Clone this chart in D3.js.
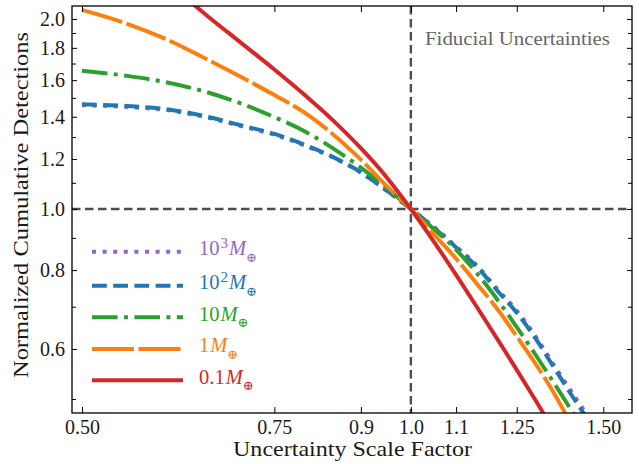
<!DOCTYPE html>
<html><head><meta charset="utf-8">
<script src="https://cdn.jsdelivr.net/npm/d3@7"></script>
<style>
html,body{margin:0;padding:0;background:#fff;}
svg{display:block;font-family:"Liberation Serif","DejaVu Serif",serif;}
</style></head>
<body><svg id="c" width="639" height="464"></svg>
<script>
// ---- data ----
const scaleFactor = [0.5,0.55,0.6,0.65,0.7,0.75,0.8,0.85,0.9,0.95,1.0,1.05,1.1,1.15,1.2,1.25,1.3,1.35,1.4,1.45,1.5];
const mass1000 = [1.460,1.451,1.433,1.397,1.352,1.311,1.260,1.205,1.142,1.069,1.0,0.936,0.872,0.813,0.746,0.690,0.629,0.568,0.516,0.471,0.427];
const mass100  = [1.465,1.456,1.438,1.401,1.356,1.315,1.263,1.207,1.143,1.070,1.0,0.934,0.869,0.809,0.742,0.685,0.624,0.563,0.510,0.465,0.420];
const mass10   = [1.656,1.625,1.585,1.532,1.468,1.398,1.327,1.245,1.163,1.080,1.0,0.929,0.862,0.790,0.718,0.650,0.588,0.532,0.482,0.438,0.398];
const mass1    = [2.067,1.965,1.851,1.728,1.617,1.515,1.420,1.310,1.197,1.088,1.0,0.911,0.834,0.760,0.694,0.628,0.569,0.513,0.458,0.410,0.367];
const mass01   = [3.020,2.606,2.281,2.028,1.830,1.663,1.514,1.378,1.248,1.123,1.0,0.887,0.786,0.698,0.622,0.556,0.498,0.447,0.403,0.364,0.329];
const xTickValues = [0.5,0.75,0.9,1.0,1.1,1.25,1.5];
const xTickLabels = ["0.50","0.75","0.9","1.0","1.1","1.25","1.50"];
const yMajorTicks = [0.6,0.8,1.0,1.2,1.4,1.6,1.8,2.0];
const yMinorTicks = [0.5,0.7,0.9,1.1,1.3,1.5,1.7,1.9];
const legendBase = ["10","10","10","1","0.1"];
const legendExp  = ["3","2",null,null,null];

// ---- layout ----
const L=72,R=632,T=6,B=413;
const svg=d3.select("#c");
const x=d3.scaleLog().domain([0.4896,1.5936]).range([L,R]);
const y=d3.scaleLog().domain([0.475,2.097]).range([B,T]);

svg.append("defs").append("clipPath").attr("id","clip")
  .append("rect").attr("x",L).attr("y",T).attr("width",R-L).attr("height",B-T);

const g=svg.append("g").attr("clip-path","url(#clip)");

// reference lines
g.append("line").attr("x1",L).attr("x2",R).attr("y1",y(1)).attr("y2",y(1))
  .attr("stroke","#4d4d4d").attr("stroke-width",2.4).attr("stroke-dasharray","8.5,4.5");
g.append("line").attr("x1",x(1)).attr("x2",x(1)).attr("y1",T).attr("y2",B)
  .attr("stroke","#4d4d4d").attr("stroke-width",2.4).attr("stroke-dasharray","8.5,4.5");

const styles=[
  {vals:mass1000,color:"#9467bd",dash:"4,6.6"},
  {vals:mass100,color:"#1f77b4",dash:"14.8,6.4"},
  {vals:mass10,color:"#2ca02c",dash:"25.6,6.4,4,6.4"},
  {vals:mass1,color:"#ff7f0e",dash:"42,4.5"},
  {vals:mass01,color:"#d62728",dash:null}
];
const line=d3.line().x(d=>x(d[0])).y(d=>y(d[1])).curve(d3.curveMonotoneX);
styles.forEach(s=>{
  g.append("path").datum(scaleFactor.map((v,i)=>[v,s.vals[i]]))
   .attr("d",line).attr("fill","none").attr("stroke",s.color).attr("stroke-width",4)
   .attr("stroke-dasharray",s.dash);
});

// axes
const fs=20;
const xb=svg.append("g").attr("transform",`translate(0,${B})`)
  .call(d3.axisBottom(x).tickValues(xTickValues).tickFormat((d,i)=>xTickLabels[i]).tickSizeInner(-6).tickSizeOuter(0).tickPadding(7));
const xt=svg.append("g").attr("transform",`translate(0,${T})`)
  .call(d3.axisTop(x).tickValues(xTickValues).tickFormat("").tickSizeInner(-6).tickSizeOuter(0));
const yl=svg.append("g").attr("transform",`translate(${L},0)`)
  .call(d3.axisLeft(y).tickValues(yMajorTicks).tickFormat(d3.format(".1f")).tickSizeInner(-5).tickSizeOuter(0).tickPadding(7));
const ylm=svg.append("g").attr("transform",`translate(${L},0)`)
  .call(d3.axisLeft(y).tickValues(yMinorTicks).tickFormat("").tickSizeInner(-4).tickSizeOuter(0));
const yr=svg.append("g").attr("transform",`translate(${R},0)`)
  .call(d3.axisRight(y).tickValues(yMajorTicks).tickFormat("").tickSizeInner(-5).tickSizeOuter(0));
const yrm=svg.append("g").attr("transform",`translate(${R},0)`)
  .call(d3.axisRight(y).tickValues(yMinorTicks).tickFormat("").tickSizeInner(-4).tickSizeOuter(0));
[xb,xt,yl,ylm,yr,yrm].forEach(a=>{
  a.select(".domain").remove();
  a.selectAll(".tick line").attr("stroke","#000").attr("stroke-width",1);
  a.selectAll("text").attr("font-family","Liberation Serif, DejaVu Serif, serif").attr("font-size",fs).attr("fill","#1a1a1a");
});
// frame
svg.append("rect").attr("x",L).attr("y",T).attr("width",R-L).attr("height",B-T)
  .attr("fill","none").attr("stroke","#000").attr("stroke-width",1.3);

// axis labels
svg.append("text").attr("x",(233+472)/2).attr("y",456).attr("text-anchor","middle")
  .attr("font-size",21).attr("fill","#1a1a1a").attr("textLength",239).attr("lengthAdjust","spacingAndGlyphs")
  .text("Uncertainty Scale Factor");
svg.append("text").attr("transform","translate(28,205) rotate(-90)").attr("text-anchor","middle")
  .attr("font-size",21).attr("fill","#1a1a1a").attr("textLength",346).attr("lengthAdjust","spacingAndGlyphs")
  .text("Normalized Cumulative Detections");

// annotation
svg.append("text").attr("x",425).attr("y",45).attr("font-size",19).attr("fill","#666")
  .attr("textLength",185).attr("lengthAdjust","spacingAndGlyphs").text("Fiducial Uncertainties");

// legend
const legY=[251.7,285.7,317.3,349,380.3];
styles.forEach((s,i)=>{
  const yy=legY[i];
  svg.append("line").attr("x1",92).attr("x2",183).attr("y1",yy).attr("y2",yy)
    .attr("stroke",s.color).attr("stroke-width",4).attr("stroke-dasharray",s.dash);
  const base=yy+3.3;
  const t=svg.append("text").attr("x",199).attr("y",base).attr("fill",s.color).attr("font-size",20.5);
  t.append("tspan").text(legendBase[i]);
  if(legendExp[i]) t.append("tspan").attr("font-size",15).attr("y",base-6.7).attr("dx",1).text(legendExp[i]);
  t.append("tspan").attr("font-style","italic").attr("y",base).attr("dx",1).text("M");
  t.append("tspan").attr("font-size",13).attr("y",base+6.5).attr("font-family","DejaVu Serif, serif").text("\u2295");
});
</script></body></html>
